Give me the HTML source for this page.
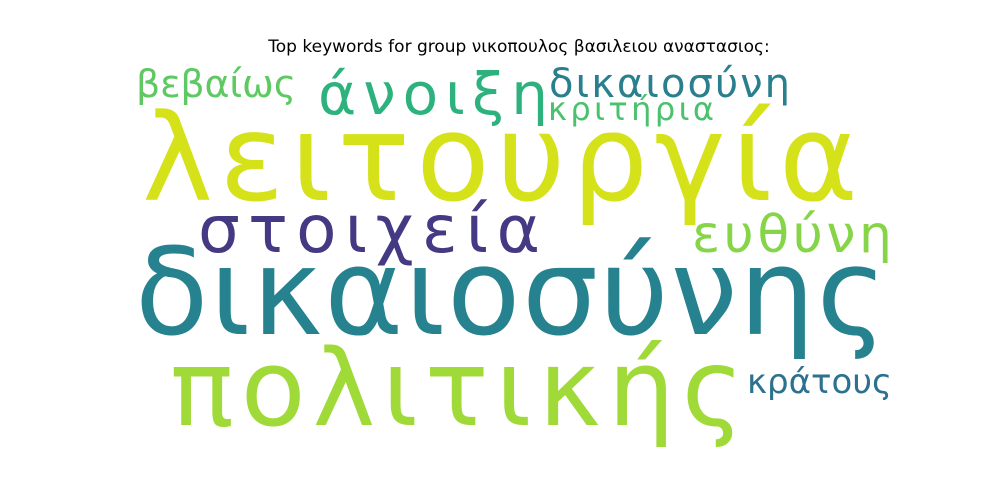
<!DOCTYPE html>
<html><head><meta charset="utf-8"><style>
html,body{margin:0;padding:0;background:#fff;width:1000px;height:500px;overflow:hidden}
svg text{font-family:"DejaVu Sans","Liberation Sans",sans-serif}
</style></head><body>
<svg width="1000" height="500" viewBox="0 0 1000 500">
<text x="519" y="52" text-anchor="middle" font-size="17" fill="#000">Top keywords for group νικοπουλος βασιλειου αναστασιος:</text>
<g id="words"></g>
</svg>
<script>
const words=["λειτουργία","δικαιοσύνης","πολιτικής","στοιχεία","άνοιξη","δικαιοσύνη","κριτήρια","βεβαίως","ευθύνη","κράτους"];
const colors=["#d5e21a","#26828e","#a0da39","#443983","#2db27d","#2a7f8e","#4ac16d","#5ec962","#86d549","#2c728e"];
const xs=[142,135,170,198,318,549,548,136,692,747];
const widths=[716,752,574,342,230,241,166,160,200,145];
const baselines=[200,334,425,252,114,97,120,97,252,393];
const sizes=[120,120,106,66,58,40,32,38,52,34];
const g=document.getElementById('words');
const NS='http://www.w3.org/2000/svg';
for(let i=0;i<words.length;i++){
  const t=document.createElementNS(NS,'text');
  t.setAttribute('x',xs[i]);
  t.setAttribute('y',baselines[i]);
  t.setAttribute('font-size',sizes[i]);
  t.setAttribute('fill',colors[i]);
  t.setAttribute('textLength',widths[i]);
  t.setAttribute('lengthAdjust','spacing');
  
  
  t.textContent=words[i];
  g.appendChild(t);
}
</script>
</body></html>
